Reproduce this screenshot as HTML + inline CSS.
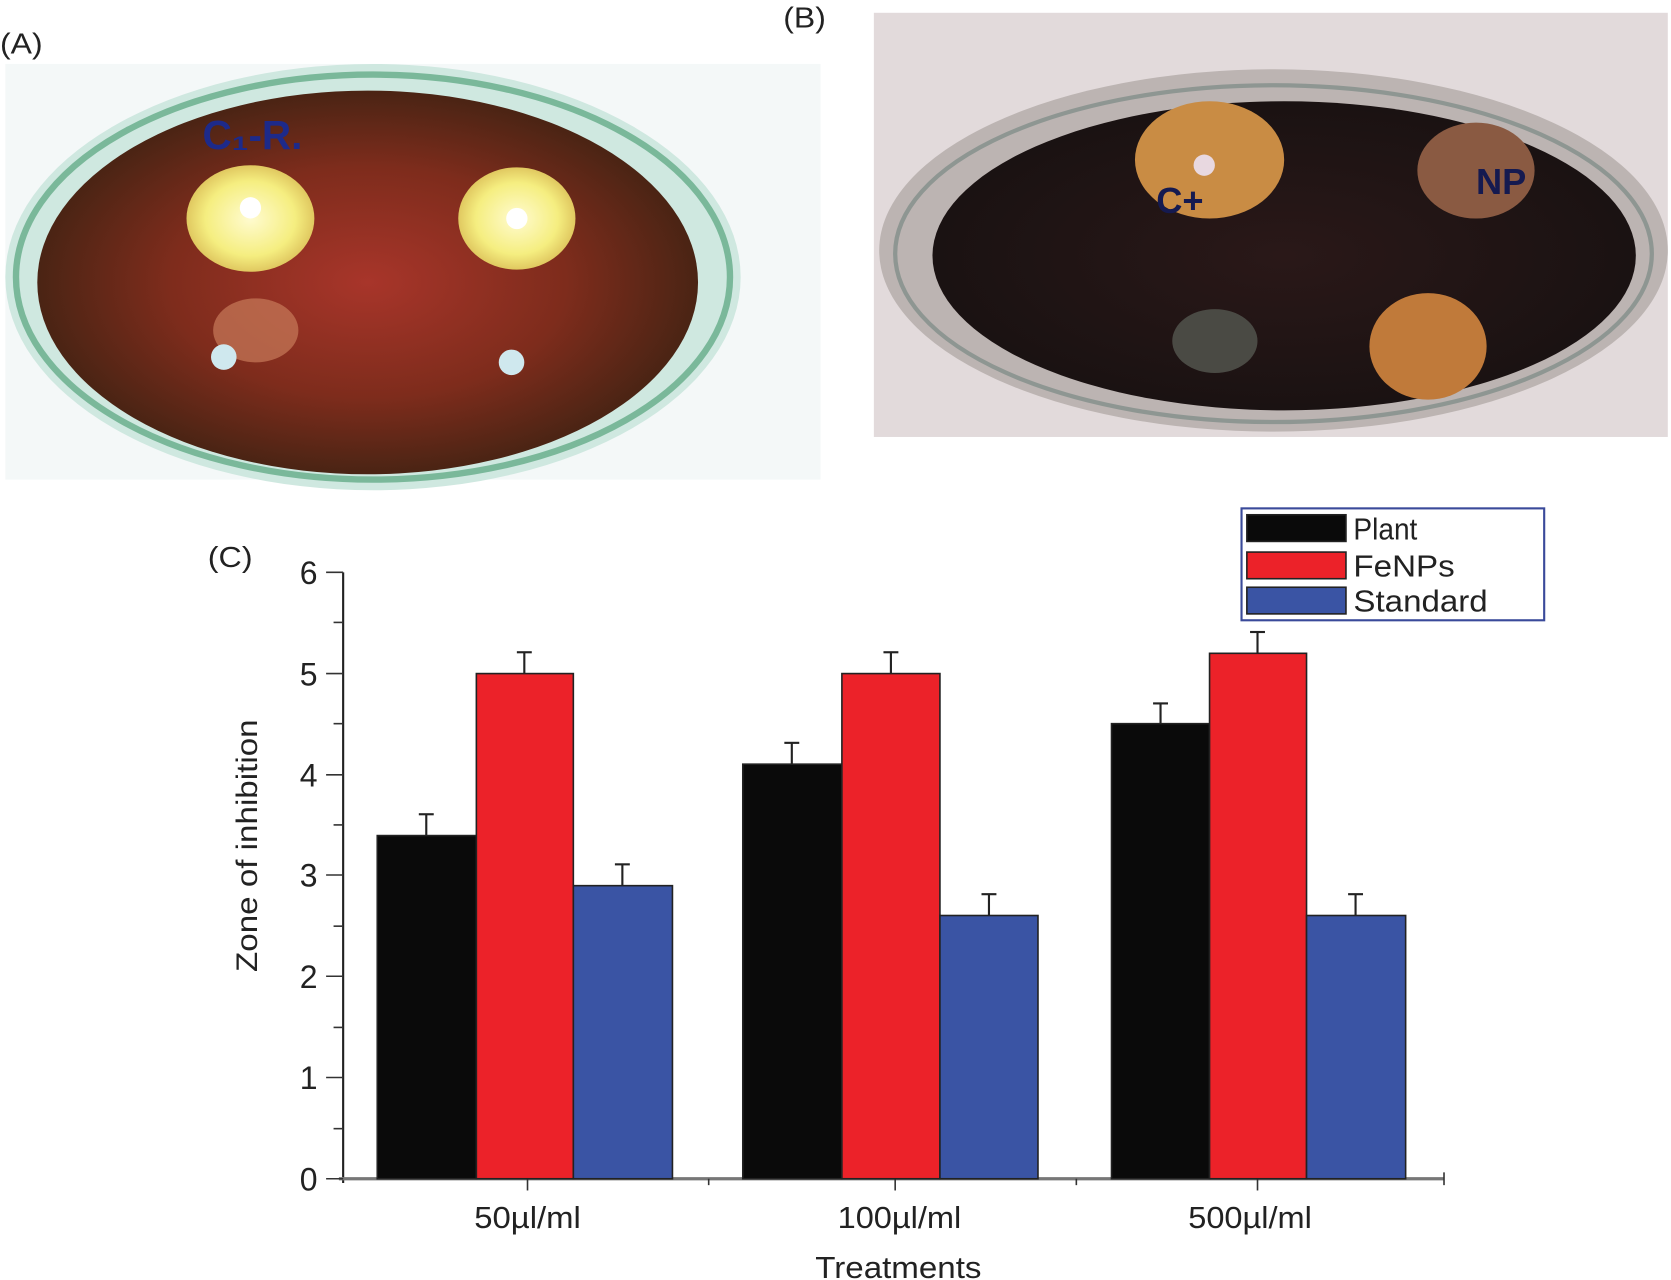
<!DOCTYPE html>
<html><head><meta charset="utf-8"><style>
html,body{margin:0;padding:0;background:#fff;}
svg{display:block;}
text{font-family:"Liberation Sans",Arial,sans-serif;}
</style></head><body>
<svg width="1671" height="1280" viewBox="0 0 1568 1201" preserveAspectRatio="none" xmlns="http://www.w3.org/2000/svg">
<defs>
<radialGradient id="ga" cx="50%" cy="50%" r="50%">
<stop offset="0" stop-color="#a8352a"/><stop offset="0.6" stop-color="#7e2c1c"/><stop offset="1" stop-color="#4a2414"/>
</radialGradient>
<radialGradient id="gb" cx="50%" cy="50%" r="50%">
<stop offset="0" stop-color="#2a1818"/><stop offset="1" stop-color="#1a1212"/>
</radialGradient>
<radialGradient id="ys" cx="50%" cy="50%" r="50%">
<stop offset="0" stop-color="#fffbd0"/><stop offset="0.7" stop-color="#f5ee80"/><stop offset="1" stop-color="#e0c860"/>
</radialGradient>
</defs>
<rect width="1568" height="1201" fill="#fff"/>
<!-- Photo A -->
<rect x="5" y="60" width="765" height="390" fill="#f4f8f8"/>
<ellipse cx="350" cy="260" rx="345" ry="200" fill="#cfe8e0"/>
<ellipse cx="350" cy="260" rx="335" ry="190" fill="none" stroke="#7ab89a" stroke-width="6"/>
<ellipse cx="345" cy="265" rx="310" ry="180" fill="url(#ga)"/>
<ellipse cx="235" cy="205" rx="60" ry="50" fill="url(#ys)"/>
<ellipse cx="485" cy="205" rx="55" ry="48" fill="url(#ys)"/>
<ellipse cx="240" cy="310" rx="40" ry="30" fill="#c77a5a" opacity="0.7"/>
<circle cx="210" cy="335" r="12" fill="#cfe8ee"/>
<circle cx="480" cy="340" r="12" fill="#cfe8ee"/>
<circle cx="235" cy="195" r="10" fill="#fff"/>
<circle cx="485" cy="205" r="10" fill="#fff"/>
<text x="190" y="140" font-size="38" fill="#1d2a8a" font-weight="bold">C₁-R.</text>
<!-- Photo B -->
<rect x="820" y="12" width="745" height="398" fill="#e2dadb"/>
<ellipse cx="1195" cy="235" rx="370" ry="170" fill="#bcb4b2"/>
<ellipse cx="1195" cy="238" rx="355" ry="158" fill="none" stroke="#8e9692" stroke-width="4"/>
<ellipse cx="1205" cy="240" rx="330" ry="145" fill="url(#gb)"/>
<ellipse cx="1135" cy="150" rx="70" ry="55" fill="#c98c44"/>
<ellipse cx="1385" cy="160" rx="55" ry="45" fill="#8a5a42"/>
<ellipse cx="1340" cy="325" rx="55" ry="50" fill="#c07a3a"/>
<ellipse cx="1140" cy="320" rx="40" ry="30" fill="#4a4a44"/>
<circle cx="1130" cy="155" r="10" fill="#e8d8e0"/>
<text x="1085" y="200" font-size="34" fill="#151a50" font-weight="bold">C+</text>
<text x="1385" y="182" font-size="34" fill="#151a50" font-weight="bold">NP</text>
<text x="0" y="50" font-size="27" fill="#222" textLength="40" lengthAdjust="spacingAndGlyphs">(A)</text>
<text x="735" y="26" font-size="27" fill="#222" textLength="40" lengthAdjust="spacingAndGlyphs">(B)</text>
<text x="195" y="532" font-size="27" fill="#222" textLength="42" lengthAdjust="spacingAndGlyphs">(C)</text>
<!-- Chart axes -->
<line x1="322" y1="537" x2="322" y2="1110" stroke="#222" stroke-width="2"/>
<line x1="318" y1="1106" x2="1355" y2="1106" stroke="#777" stroke-width="3"/>
<g stroke="#333" stroke-width="1.5">
<line x1="306" y1="1106" x2="322" y2="1106"/><line x1="306" y1="1011" x2="322" y2="1011"/><line x1="306" y1="916" x2="322" y2="916"/><line x1="306" y1="821" x2="322" y2="821"/><line x1="306" y1="727" x2="322" y2="727"/><line x1="306" y1="632" x2="322" y2="632"/><line x1="306" y1="537" x2="322" y2="537"/>
<line x1="313" y1="1059" x2="322" y2="1059"/><line x1="313" y1="964" x2="322" y2="964"/><line x1="313" y1="869" x2="322" y2="869"/><line x1="313" y1="774" x2="322" y2="774"/><line x1="313" y1="679" x2="322" y2="679"/><line x1="313" y1="584" x2="322" y2="584"/>
<line x1="495" y1="1106" x2="495" y2="1117"/><line x1="840" y1="1106" x2="840" y2="1117"/><line x1="1180" y1="1106" x2="1180" y2="1117"/>
<line x1="665" y1="1106" x2="665" y2="1112"/><line x1="1010" y1="1106" x2="1010" y2="1112"/><line x1="1355" y1="1100" x2="1355" y2="1112"/>
</g>
<g font-size="30" fill="#222" text-anchor="end">
<text x="298" y="1117">0</text><text x="298" y="1022">1</text><text x="298" y="927">2</text><text x="298" y="832">3</text><text x="298" y="738">4</text><text x="298" y="643">5</text><text x="298" y="548">6</text>
</g>
<g font-size="29" fill="#222">
<text x="445" y="1152" textLength="100" lengthAdjust="spacingAndGlyphs">50µl/ml</text>
<text x="786" y="1152" textLength="116" lengthAdjust="spacingAndGlyphs">100µl/ml</text>
<text x="1115" y="1152" textLength="116" lengthAdjust="spacingAndGlyphs">500µl/ml</text>
<text x="765" y="1199" textLength="156" lengthAdjust="spacingAndGlyphs">Treatments</text>
</g>
<text transform="translate(241,912) rotate(-90)" font-size="28" fill="#222" textLength="237" lengthAdjust="spacingAndGlyphs">Zone of inhibition</text>
<!-- Error bars -->
<g stroke="#222" stroke-width="2">
<line x1="400" y1="784" x2="400" y2="764"/><line x1="393" y1="764" x2="407" y2="764"/>
<line x1="492" y1="632" x2="492" y2="612"/><line x1="485" y1="612" x2="499" y2="612"/>
<line x1="584" y1="831" x2="584" y2="811"/><line x1="577" y1="811" x2="591" y2="811"/>
<line x1="743" y1="717" x2="743" y2="697"/><line x1="736" y1="697" x2="750" y2="697"/>
<line x1="836" y1="632" x2="836" y2="612"/><line x1="829" y1="612" x2="843" y2="612"/>
<line x1="928" y1="859" x2="928" y2="839"/><line x1="921" y1="839" x2="935" y2="839"/>
<line x1="1089" y1="679" x2="1089" y2="660"/><line x1="1082" y1="660" x2="1096" y2="660"/>
<line x1="1180" y1="613" x2="1180" y2="593"/><line x1="1173" y1="593" x2="1187" y2="593"/>
<line x1="1272" y1="859" x2="1272" y2="839"/><line x1="1265" y1="839" x2="1279" y2="839"/>
</g>
<!-- Bars -->
<g stroke="#222" stroke-width="1.5">
<rect x="354" y="784" width="93" height="322" fill="#0a0a0a"/>
<rect x="447" y="632" width="91" height="474" fill="#ec2229"/>
<rect x="538" y="831" width="93" height="275" fill="#3a54a4"/>
<rect x="697" y="717" width="93" height="389" fill="#0a0a0a"/>
<rect x="790" y="632" width="92" height="474" fill="#ec2229"/>
<rect x="882" y="859" width="92" height="247" fill="#3a54a4"/>
<rect x="1043" y="679" width="92" height="427" fill="#0a0a0a"/>
<rect x="1135" y="613" width="91" height="493" fill="#ec2229"/>
<rect x="1226" y="859" width="93" height="247" fill="#3a54a4"/>
</g>
<!-- Legend -->
<rect x="1165" y="477" width="284" height="105" fill="#fff" stroke="#3a4a9a" stroke-width="2"/>
<g stroke="#222" stroke-width="1.5">
<rect x="1170" y="483" width="93" height="25" fill="#0a0a0a"/>
<rect x="1170" y="518" width="93" height="25" fill="#ec2229"/>
<rect x="1170" y="551" width="93" height="25" fill="#3a54a4"/>
</g>
<g font-size="29" fill="#222">
<text x="1270" y="506" textLength="60" lengthAdjust="spacingAndGlyphs">Plant</text>
<text x="1270" y="541" textLength="95" lengthAdjust="spacingAndGlyphs">FeNPs</text>
<text x="1270" y="574" textLength="126" lengthAdjust="spacingAndGlyphs">Standard</text>
</g>
</svg>
</body></html>
